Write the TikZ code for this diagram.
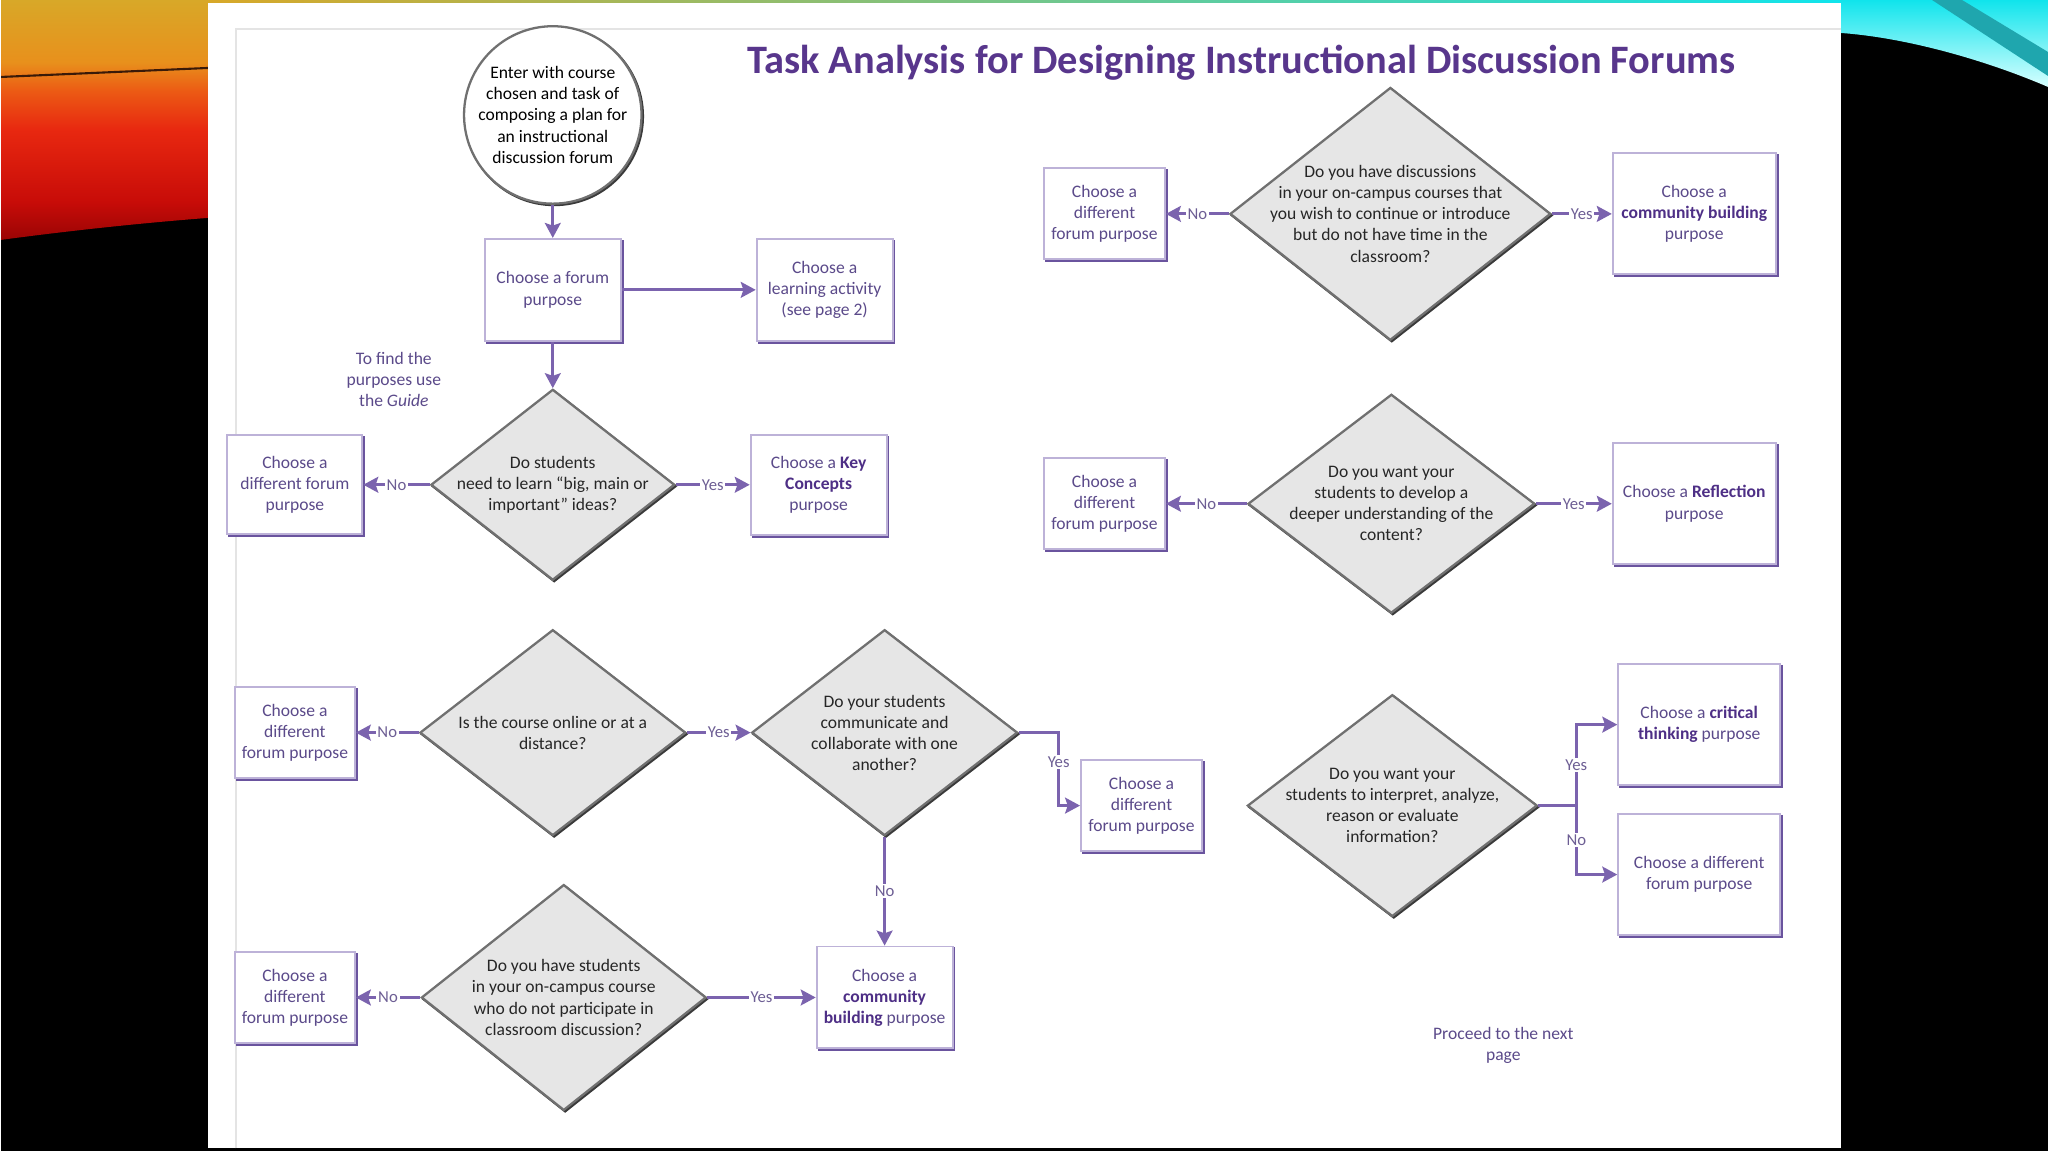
\documentclass[tikz,border=0pt]{standalone}
\usepackage{fontspec}
\setmainfont{Carlito}
\usepackage{tikz}
\usetikzlibrary{shapes.geometric, arrows.meta, shadows}
\definecolor{flow}{HTML}{7B63AE}
\definecolor{boxedge}{HTML}{BDB2D8}
\definecolor{boxdark}{HTML}{6A549E}
\definecolor{boxtext}{HTML}{5B4A8A}
\definecolor{boxbold}{HTML}{4E2F86}
\definecolor{tagtext}{HTML}{6D5E94}
\definecolor{titlecol}{HTML}{58368C}
\definecolor{askfill}{HTML}{E6E6E6}
\definecolor{askedge}{HTML}{707070}
\definecolor{askdark}{HTML}{3A3A3A}
\definecolor{framecol}{HTML}{E4E4E4}
\definecolor{swA}{HTML}{9A0404}
\definecolor{swB}{HTML}{C80C08}
\definecolor{swC}{HTML}{E82810}
\definecolor{swD}{HTML}{EC5A14}
\definecolor{swE}{HTML}{E8901C}
\definecolor{swF}{HTML}{D8A828}
\definecolor{swline}{HTML}{3A1A08}
\definecolor{swcyan}{HTML}{10E4EC}
\definecolor{swpale}{HTML}{D8FFFF}
\definecolor{swteal}{HTML}{1FA6AE}
\pgfdeclareverticalshading{leftswirl}{100bp}{color(0bp)=(swA); color(25bp)=(swA); color(33bp)=(swB); color(48bp)=(swC); color(56bp)=(swD); color(62bp)=(swE); color(75bp)=(swF); color(100bp)=(swF)}
\newcommand{\purplebf}[1]{\textbf{\color{boxbold}#1}}

\begin{document}
\begin{tikzpicture}[x=0.02cm, y=-0.02cm, >={Stealth[length=8.5pt,width=9pt,inset=1.5pt]},
            font=\fontsize{10}{12}\selectfont,
            pick/.style={rectangle, draw=boxedge, line width=1.1pt, fill=white, text=boxtext, align=center, inner sep=1pt,
                general shadow={fill=boxdark, draw=boxdark, shadow xshift=1.1pt, shadow yshift=-1.1pt}},
            ask/.style={diamond, draw=askedge, line width=1.3pt, fill=askfill, inner sep=0pt,
                general shadow={fill=askdark, draw=askdark, shadow xshift=0.8pt, shadow yshift=-0.8pt}},
            asktext/.style={align=center, text=black!85},
            flowline/.style={draw=flow, line width=1.6pt, ->},
            tag/.style={fill=white, inner sep=1pt, text=tagtext, font=\fontsize{9.5}{11}\selectfont}]
            \fill[black] (0,0) rectangle (2048,1152);
            \shade[shading=leftswirl] (0,0) -- (207,0) -- (207,218) .. controls (130,224) and (60,232) .. (0,240) -- cycle;
            \draw[swline, line width=1.2pt] (0,77) -- (207,68);
            \shade[top color=swcyan, bottom color=swpale] (1841,0) -- (2048,0) -- (2048,87) .. controls (1990,62) and (1910,38) .. (1841,33) -- cycle;
            \fill[swteal] (1932,0) -- (1962,0) -- (2048,52) -- (2048,76) -- cycle;
            \shade[left color=swF, right color=swcyan] (207,0) rectangle (1841,3);
            \fill[white] (207,3) rectangle (1841,1149);
            \draw[framecol, line width=1pt] (235,1149) -- (235,29) -- (1841,29);

            \node[text=titlecol, font=\fontsize{23}{27}\selectfont\bfseries] (title) at (1241,63) {Task Analysis for Designing Instructional Discussion Forums};

            \node[circle, draw=askedge, line width=1.3pt, fill=white, minimum size=3.4cm, align=center, inner sep=0pt,
                general shadow={fill=askdark, draw=askdark, shadow xshift=0.8pt, shadow yshift=-0.8pt}] (start) at (552,115)
                {Enter with course\\chosen and task of\\composing a plan for\\an instructional\\discussion forum};
            \node[pick, minimum width=2.72cm, minimum height=2.04cm] (purpose) at (552,290) {Choose a forum\\purpose};
            \node[pick, minimum width=2.72cm, minimum height=2.04cm] (activity) at (824,290) {Choose a\\learning activity\\(see page 2)};
            \node[text=boxtext, align=center] (guide) at (393,380) {To find the\\purposes use\\the \textit{Guide}};
            \node[ask, minimum width=4.88cm, minimum height=3.82cm,
                label={[asktext]center:{Do students\\need to learn “big, main or\\important” ideas?}}] (big) at (552,485) {};
            \node[pick, minimum width=2.7cm, minimum height=1.98cm] (otherA) at (294,485) {Choose a\\different forum\\purpose};
            \node[pick, minimum width=2.72cm, minimum height=2cm] (key) at (818,485) {Choose a \purplebf{Key}\\\purplebf{Concepts}\\purpose};

            \node[ask, minimum width=6.42cm, minimum height=5.06cm,
                label={[asktext]center:{Do you have discussions\\in your on-campus courses that\\you wish to continue or introduce\\but do not have time in the\\classroom?}}] (oncampus) at (1390,214) {};
            \node[pick, minimum width=2.42cm, minimum height=1.82cm] (otherB) at (1104,214) {Choose a\\different\\forum purpose};
            \node[pick, minimum width=3.26cm, minimum height=2.42cm] (communityA) at (1694,214) {Choose a\\\purplebf{community building}\\purpose};

            \node[ask, minimum width=5.74cm, minimum height=4.38cm,
                label={[asktext]center:{Do you want your\\students to develop a\\deeper understanding of the\\content?}}] (deeper) at (1391,504) {};
            \node[pick, minimum width=2.42cm, minimum height=1.82cm] (otherC) at (1104,504) {Choose a\\different\\forum purpose};
            \node[pick, minimum width=3.26cm, minimum height=2.42cm] (reflection) at (1694,504) {Choose a \purplebf{Reflection}\\purpose};

            \node[ask, minimum width=5.8cm, minimum height=4.44cm,
                label={[asktext]center:{Do you want your\\students to interpret, analyze,\\reason or evaluate\\information?}}] (judge) at (1392,806) {};
            \node[pick, minimum width=3.24cm, minimum height=2.42cm] (critical) at (1699,725) {Choose a \purplebf{critical}\\\purplebf{thinking} purpose};
            \node[pick, minimum width=3.24cm, minimum height=2.42cm] (otherD) at (1699,875) {Choose a different\\forum purpose};
            \node[text=boxtext, align=center] (proceed) at (1503,1046) {Proceed to the next\\page};

            \node[ask, minimum width=5.32cm, minimum height=4.12cm,
                label={[asktext]center:{Is the course online or at a\\distance?}}] (online) at (552,733) {};
            \node[pick, minimum width=2.4cm, minimum height=1.82cm] (otherE) at (294,733) {Choose a\\different\\forum purpose};
            \node[ask, minimum width=5.32cm, minimum height=4.12cm,
                label={[asktext]center:{Do your students\\communicate and\\collaborate with one\\another?}}] (talk) at (884,733) {};
            \node[pick, minimum width=2.42cm, minimum height=1.82cm] (otherF) at (1141,806) {Choose a\\different\\forum purpose};
            \node[pick, minimum width=2.72cm, minimum height=2.04cm] (communityB) at (884,998) {Choose a\\\purplebf{community}\\\purplebf{building} purpose};
            \node[ask, minimum width=5.7cm, minimum height=4.52cm,
                label={[asktext]center:{Do you have students\\in your on-campus course\\who do not participate in\\classroom discussion?}}] (silent) at (563,998) {};
            \node[pick, minimum width=2.4cm, minimum height=1.82cm] (otherG) at (294,998) {Choose a\\different\\forum purpose};

            \draw[flowline] (start) -- (purpose);
            \draw[flowline] (purpose) -- (activity);
            \draw[flowline] (purpose) -- (big);
            \draw[flowline] (big) -- node[tag]{No} (otherA);
            \draw[flowline] (big) -- node[tag]{Yes} (key);
            \draw[flowline] (oncampus) -- node[tag]{No} (otherB);
            \draw[flowline] (oncampus) -- node[tag]{Yes} (communityA);
            \draw[flowline] (deeper) -- node[tag]{No} (otherC);
            \draw[flowline] (deeper) -- node[tag]{Yes} (reflection);
            \draw[flowline, -] (judge.east) -- ++(38,0) coordinate (fork);
            \draw[flowline] (fork) |- node[tag, pos=0.25]{Yes} (critical.west);
            \draw[flowline] (fork) |- node[tag, pos=0.25]{No} (otherD.west);
            \draw[flowline] (online) -- node[tag]{No} (otherE);
            \draw[flowline] (online) -- node[tag]{Yes} (talk);
            \draw[flowline] (talk.east) -- ++(40,0) |- node[tag, pos=0.2]{Yes} (otherF.west);
            \draw[flowline] (talk) -- node[tag]{No} (communityB);
            \draw[flowline] (silent) -- node[tag]{No} (otherG);
            \draw[flowline] (silent) -- node[tag]{Yes} (communityB);
        \end{tikzpicture}
\end{document}
